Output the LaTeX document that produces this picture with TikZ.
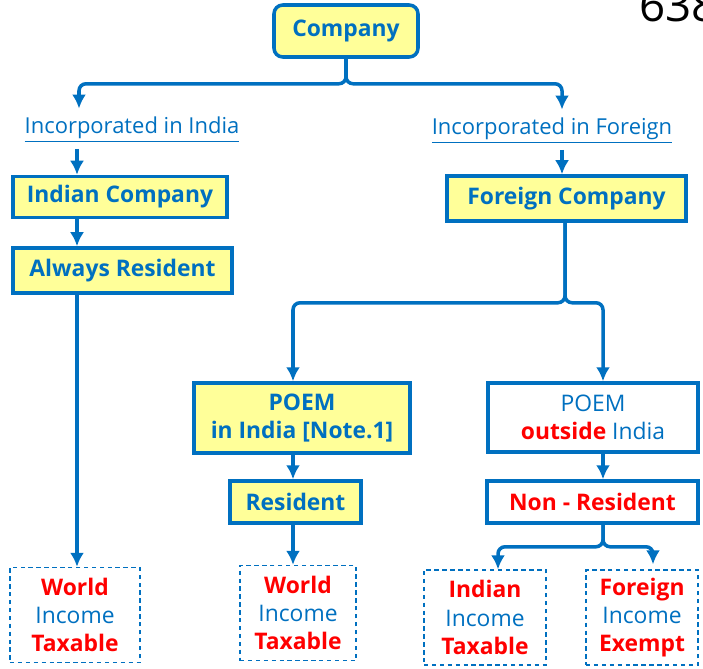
\documentclass[tikz,border=0pt]{standalone}
\usepackage{fontspec}
\setmainfont{Open Sans}
\usetikzlibrary{positioning,arrows.meta,calc}
\definecolor{ofblue}{RGB}{0,112,192}
\definecolor{ofyellow}{RGB}{255,255,153}
\definecolor{ofred}{RGB}{255,0,0}

\begin{document}
\begin{tikzpicture}[
        yellowbox/.style={rectangle, draw=ofblue, line width=2pt, fill=ofyellow, text=ofblue, font=\bfseries\fontsize{13}{16}\selectfont, align=center, inner sep=2pt},
        whitebox/.style={rectangle, draw=ofblue, line width=2pt, fill=white, text=ofblue, font=\fontsize{13}{16}\selectfont, align=center, inner sep=2pt},
        dashbox/.style={rectangle, draw=ofblue, line width=0.8pt, dash pattern=on 2.5pt off 2pt, text=ofblue, font=\fontsize{13}{16}\selectfont, align=center, minimum height=1.9cm},
        inclabel/.style={text=ofblue, font=\fontsize{12.5}{14}\selectfont},
        arr/.style={-{Latex[length=2.8mm,width=2.8mm]}, ofblue, line width=2pt},
        branch/.style={arr, rounded corners=4pt}
    ]
    \useasboundingbox (0,0) rectangle (14.06,-13.36);
    \newcommand{\rd}[1]{{\color{ofred}\bfseries #1}}

    % page number at the edge
    \node[anchor=base west, font=\fontsize{26}{26}\selectfont, inner sep=0pt] (page) at (12.78,-0.42) {638};

    % top
    \node[yellowbox, rounded corners=5pt, minimum width=2.88cm, minimum height=1.04cm] (company) at (6.92,-0.62) {Company};
    \node[inclabel] (incind) at (2.64,-2.6) {\underline{Incorporated in India}};
    \node[inclabel] (incfor) at (11.04,-2.62) {\underline{Incorporated in Foreign}};

    % left branch
    \node[yellowbox, minimum width=4.28cm, minimum height=0.82cm] (indco) at (2.4,-3.94) {Indian Company};
    \node[yellowbox, minimum width=4.38cm, minimum height=0.9cm] (always) at (2.45,-5.41) {Always Resident};
    \node[dashbox, minimum width=2.6cm] (world1) at (1.5,-12.3) {\rd{World}\\Income\\\rd{Taxable}};

    % right branch
    \node[yellowbox, minimum width=4.78cm, minimum height=0.9cm] (forco) at (11.33,-3.97) {Foreign Company};
    \node[yellowbox, minimum width=4.32cm, minimum height=1.4cm] (poemin) at (6.04,-8.36) {POEM\\in India [Note.1]};
    \node[yellowbox, minimum width=2.62cm, minimum height=0.84cm] (resident) at (5.91,-10.04) {Resident};
    \node[dashbox, minimum width=2.32cm] (world2) at (5.96,-12.26) {\rd{World}\\Income\\\rd{Taxable}};
    \node[whitebox, minimum width=4.2cm, minimum height=1.38cm] (poemout) at (11.86,-8.35) {POEM\\\rd{outside} India};
    \node[whitebox, minimum width=4.22cm, minimum height=0.84cm, text=ofred, font=\bfseries\fontsize{13}{16}\selectfont] (nonres) at (11.85,-10.04) {Non - Resident};
    \node[dashbox, minimum width=2.44cm] (indinc) at (9.7,-12.35) {\rd{Indian}\\Income\\\rd{Taxable}};
    \node[dashbox, minimum width=2.24cm] (forinc) at (12.84,-12.35) {\rd{Foreign}\\Income\\\rd{Exempt}};

    % x positions of the vertical lines
    \coordinate (xa) at (1.58,0);
    \coordinate (xb) at (1.54,0);
    \coordinate (xc) at (11.24,0);
    \coordinate (xd) at (11.3,0);
    \coordinate (xe) at (5.86,0);
    \coordinate (xf) at (12.06,0);
    \coordinate (xg) at (9.96,0);
    \coordinate (xh) at (13.06,0);

    % split under Company
    \draw[branch] (company.south) -- ++(0,-0.5) -| ($(incind.north -| xa)+(0,0.05)$);
    \draw[branch] (company.south) -- ++(0,-0.5) -| ($(incfor.north -| xc)+(0,0.05)$);

    % left chain
    \draw[arr] (incind.south -| xb) -- (indco.north -| xb);
    \draw[arr] (indco.south -| xb) -- (always.north -| xb);
    \draw[arr] (always.south -| xb) -- (world1.north -| xb);

    % foreign chain
    \draw[arr] (incfor.south -| xc) -- (forco.north -| xc);
    \draw[branch] (forco.south -| xd) -- ++(0,-1.6) -| (poemin.north -| xe);
    \draw[branch] (forco.south -| xd) -- ++(0,-1.6) -| (poemout.north -| xf);
    \draw[arr] (poemin.south -| xe) -- (resident.north -| xe);
    \draw[arr] (resident.south -| xe) -- (world2.north -| xe);
    \draw[arr] (poemout.south -| xf) -- (nonres.north -| xf);
    \draw[branch] (nonres.south -| xf) -- ++(0,-0.44) -| (indinc.north -| xg);
    \draw[branch] (nonres.south -| xf) -- ++(0,-0.44) -| ($(forinc.north -| xh)+(0,0.1)$);
\end{tikzpicture}
\end{document}
